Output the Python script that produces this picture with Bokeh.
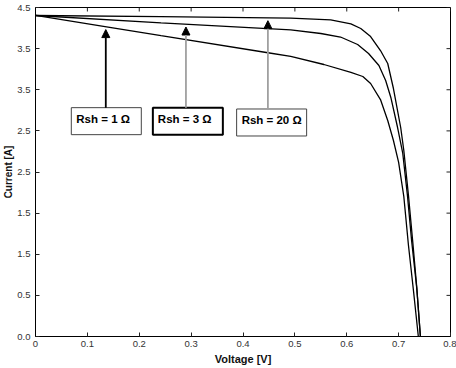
from bokeh.plotting import figure
from bokeh.models import Range1d, FixedTicker, Arrow, NormalHead
from bokeh.core.properties import value
from bokeh.embed import file_html
from bokeh.resources import INLINE
import numpy as np

# I-V curves of a solar cell for three shunt resistances
voltage_20 = [0.000, 0.242, 0.492, 0.569, 0.608, 0.627, 0.646, 0.665, 0.679,
              0.690, 0.704, 0.710, 0.719, 0.727, 0.735, 0.742]
current_20 = [3.903, 3.888, 3.872, 3.850, 3.800, 3.745, 3.647, 3.477, 3.319,
              3.015, 2.541, 2.261, 1.714, 1.167, 0.596, 0.000]

voltage_3 = [0.000, 0.242, 0.492, 0.550, 0.588, 0.621, 0.642, 0.662, 0.675,
             0.685, 0.698, 0.708, 0.717, 0.725, 0.735, 0.742]
current_3 = [3.903, 3.814, 3.729, 3.684, 3.641, 3.550, 3.441, 3.295, 3.112,
             2.906, 2.541, 2.225, 1.714, 1.167, 0.584, 0.000]

voltage_1 = [0.000, 0.137, 0.242, 0.448, 0.492, 0.556, 0.608, 0.631, 0.646,
             0.665, 0.679, 0.690, 0.700, 0.710, 0.719, 0.729, 0.738]
current_1 = [3.903, 3.765, 3.657, 3.450, 3.405, 3.307, 3.210, 3.161, 3.076,
             2.881, 2.626, 2.383, 2.116, 1.702, 1.106, 0.535, 0.000]

annotations = ["Rsh = 1 \u03a9", "Rsh = 3 \u03a9", "Rsh = 20 \u03a9"]

x_ticks = [0, 0.1, 0.2, 0.3, 0.4, 0.5, 0.6, 0.7, 0.8]
x_tick_labels = ["0", "0.1", "0.2", "0.3", "0.4", "0.5", "0.6", "0.7", "0.8"]
y_ticks = [0, 0.5, 1.0, 1.5, 2.0, 2.5, 3.0, 3.5, 4.0]
y_tick_labels = ["0.0", "0.5", "1.5", "1.5", "2.5", "2.5", "3.5", "3.5", "4.5"]

FONT = "Liberation Sans"
W, H = 456, 368
BL, BR, BT, BB = 34, 6, 7, 32
X0, X1, Y0, Y1 = 0, 0.8, 0, 4.0

p = figure(width=W, height=H, output_backend="svg", toolbar_location=None,
           x_range=Range1d(X0, X1), y_range=Range1d(Y0, Y1),
           min_border_left=BL, min_border_right=BR, min_border_top=BT,
           min_border_bottom=BB, background_fill_color="white",
           border_fill_color="white")
p.grid.visible = False
p.outline_line_color = "black"
p.outline_line_width = 1

def style_axis(ax, ticks, labels):
    ax.ticker = FixedTicker(ticks=ticks)
    ax.major_label_overrides = {t: l for t, l in zip(ticks, labels)}
    ax.major_tick_in = 4
    ax.major_tick_out = 0
    ax.minor_tick_in = 0
    ax.minor_tick_out = 0
    ax.axis_line_color = "black"
    ax.major_tick_line_color = "#222222"
    ax.major_label_text_font = FONT
    ax.major_label_text_font_size = "9.5px"
    ax.major_label_text_color = "#333333"
    ax.axis_label_text_font = FONT
    ax.axis_label_text_font_style = "bold"
    ax.axis_label_text_color = "#111111"

xa = p.xaxis[0]
style_axis(xa, x_ticks, x_tick_labels)
xa.major_label_standoff = 4
xa.axis_label = "Voltage [V]"
xa.axis_label_text_font_size = "11px"
xa.axis_label_standoff = 3

ya = p.yaxis[0]
style_axis(ya, y_ticks, y_tick_labels)
ya.major_label_standoff = 5
ya.axis_label = "Current [A]"
ya.axis_label_text_font_size = "10px"
ya.axis_label_standoff = 0

# inward tick marks on the top and right edges of the box
tick_len = 4
dy = tick_len * (Y1 - Y0) / (H - BT - BB)
dx = tick_len * (X1 - X0) / (W - BL - BR)
p.segment(x0=x_ticks, y0=[Y1] * len(x_ticks), x1=x_ticks, y1=[Y1 - dy] * len(x_ticks),
          line_color="#222222", line_width=1)
p.segment(x0=[X1] * len(y_ticks), y0=y_ticks, x1=[X1 - dx] * len(y_ticks), y1=y_ticks,
          line_color="#222222", line_width=1)

# curves
for v, i in ((voltage_20, current_20), (voltage_3, current_3), (voltage_1, current_1)):
    p.line(v, i, line_color="black", line_width=1.3)

# arrows from the boxes up to their curves
arrow_x = [0.1355, 0.290, 0.448]
arrow_colors = ["black", "#a0a0a0", "#a0a0a0"]
curves = [(voltage_1, current_1), (voltage_3, current_3), (voltage_20, current_20)]
box_x = [0.1365, 0.2937, 0.4552]
box_y = [2.618, 2.616, 2.602]
box_line = [("#444444", 1), ("black", 2), ("#444444", 1)]
for k in range(3):
    v, i = curves[k]
    tip = float(np.interp(arrow_x[k], v, i)) - 0.035
    start = box_y[k] + 0.164
    p.add_layout(Arrow(end=NormalHead(size=8, fill_color="black", line_color="black",
                                      line_width=1),
                       x_start=arrow_x[k], y_start=start, x_end=arrow_x[k], y_end=tip,
                       line_color=arrow_colors[k], line_width=1.8))
    p.rect(x=box_x[k], y=box_y[k], width=70, height=27, width_units="screen",
           height_units="screen", fill_color="white", line_color=box_line[k][0],
           line_width=box_line[k][1])
    p.text(x=[box_x[k]], y=[box_y[k]], text=[annotations[k]], x_offset=-30, y_offset=-2,
           text_font=value(FONT), text_font_style="bold", text_font_size="11.5px",
           text_baseline="middle", text_align="left", text_color="black")

open("out.html", "w").write(file_html(p, INLINE))
